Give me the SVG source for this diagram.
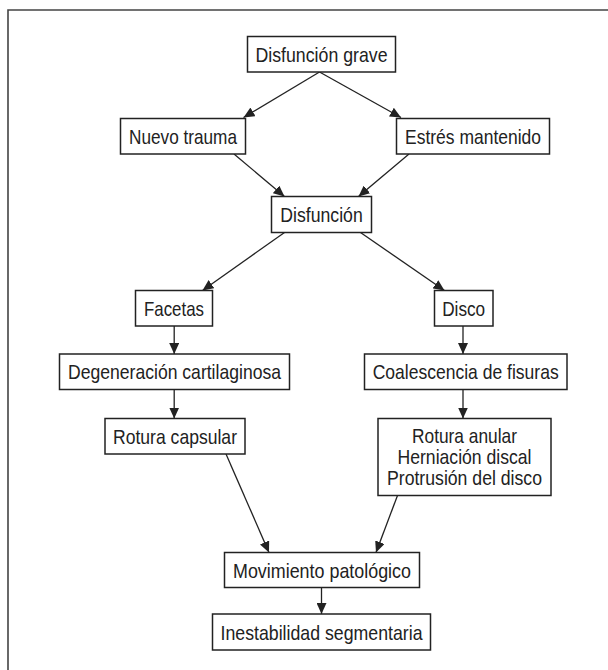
<svg xmlns="http://www.w3.org/2000/svg" width="608" height="670" viewBox="0 0 608 670">
<style>
.box{fill:#fff;stroke:#222;stroke-width:1.5}
.t{font-family:"Liberation Sans Narrow","Liberation Sans",Arial,sans-serif;font-size:21px;fill:#222;text-anchor:middle}
.c{stroke:#222;stroke-width:1.3;fill:none;marker-end:url(#ah)}
.frame{stroke:#444;stroke-width:1.6;fill:none}
</style>
<defs>
<marker id="ah" markerUnits="userSpaceOnUse" markerWidth="12" markerHeight="10" refX="11" refY="5" orient="auto">
<path d="M0,0 L11,5 L0,10 Z" fill="#222"/>
</marker>
</defs>
<rect width="608" height="670" fill="#fff"/>
<path class="frame" d="M8,671 L8,10 L609,10"/>
<g id="connectors">
<line class="c" x1="319.5" y1="72" x2="243.5" y2="117.5"/>
<line class="c" x1="319.5" y1="72" x2="401" y2="117.5"/>
<line class="c" x1="234" y1="154" x2="284.5" y2="196.5"/>
<line class="c" x1="409" y1="154" x2="358.5" y2="196.5"/>
<line class="c" x1="284.5" y1="232.5" x2="202.5" y2="290.5"/>
<line class="c" x1="360.5" y1="232.5" x2="444.5" y2="290.5"/>
<line class="c" x1="174.2" y1="326" x2="174.2" y2="354"/>
<line class="c" x1="463" y1="326" x2="463" y2="354"/>
<line class="c" x1="174.2" y1="389.5" x2="174.2" y2="418.5"/>
<line class="c" x1="463" y1="389.5" x2="463" y2="418.5"/>
<line class="c" x1="226" y1="454" x2="269" y2="552.5"/>
<line class="c" x1="397.5" y1="495.5" x2="376" y2="552.5"/>
<line class="c" x1="321.5" y1="587.5" x2="321.5" y2="614"/>
</g>
<g id="n-grave"><rect class="box" x="247.5" y="36.5" width="148" height="35.5"/><text class="t" x="321.5" y="61.8" textLength="132" lengthAdjust="spacingAndGlyphs">Disfunción grave</text></g>
<g id="n-nuevo"><rect class="box" x="120.5" y="118.5" width="125" height="35.5"/><text class="t" x="183" y="143.8" textLength="108" lengthAdjust="spacingAndGlyphs">Nuevo trauma</text></g>
<g id="n-estres"><rect class="box" x="396.5" y="118.5" width="153" height="35.5"/><text class="t" x="473" y="143.8" textLength="136" lengthAdjust="spacingAndGlyphs">Estrés mantenido</text></g>
<g id="n-disf"><rect class="box" x="271.5" y="196.5" width="100" height="36"/><text class="t" x="321.5" y="222" textLength="82.5" lengthAdjust="spacingAndGlyphs">Disfunción</text></g>
<g id="n-facetas"><rect class="box" x="135.5" y="290.5" width="77" height="35.5"/><text class="t" x="174" y="315.8" textLength="60" lengthAdjust="spacingAndGlyphs">Facetas</text></g>
<g id="n-disco"><rect class="box" x="434.5" y="290.5" width="58.5" height="35.5"/><text class="t" x="463.7" y="315.8" textLength="43" lengthAdjust="spacingAndGlyphs">Disco</text></g>
<g id="n-degen"><rect class="box" x="59.5" y="354" width="230" height="35.5"/><text class="t" x="174.5" y="379.3" textLength="213" lengthAdjust="spacingAndGlyphs">Degeneración cartilaginosa</text></g>
<g id="n-coal"><rect class="box" x="364.5" y="354" width="202.5" height="35.5"/><text class="t" x="465.7" y="379.3" textLength="186" lengthAdjust="spacingAndGlyphs">Coalescencia de fisuras</text></g>
<g id="n-rotcap"><rect class="box" x="105" y="418.5" width="140" height="35.5"/><text class="t" x="175" y="443.8" textLength="124" lengthAdjust="spacingAndGlyphs">Rotura capsular</text></g>
<g id="n-rotan"><rect class="box" x="378" y="418.5" width="173" height="77"/>
<text class="t" x="464.5" y="442.5" textLength="105" lengthAdjust="spacingAndGlyphs">Rotura anular</text>
<text class="t" x="464.5" y="463.8" textLength="134" lengthAdjust="spacingAndGlyphs">Herniación discal</text>
<text class="t" x="464.5" y="485" textLength="155" lengthAdjust="spacingAndGlyphs">Protrusión del disco</text></g>
<g id="n-mov"><rect class="box" x="224.5" y="552.5" width="195" height="35"/><text class="t" x="322" y="577.5" textLength="178" lengthAdjust="spacingAndGlyphs">Movimiento patológico</text></g>
<g id="n-inest"><rect class="box" x="212.5" y="614" width="218" height="36"/><text class="t" x="321.5" y="639.5" textLength="202" lengthAdjust="spacingAndGlyphs">Inestabilidad segmentaria</text></g>
</svg>
